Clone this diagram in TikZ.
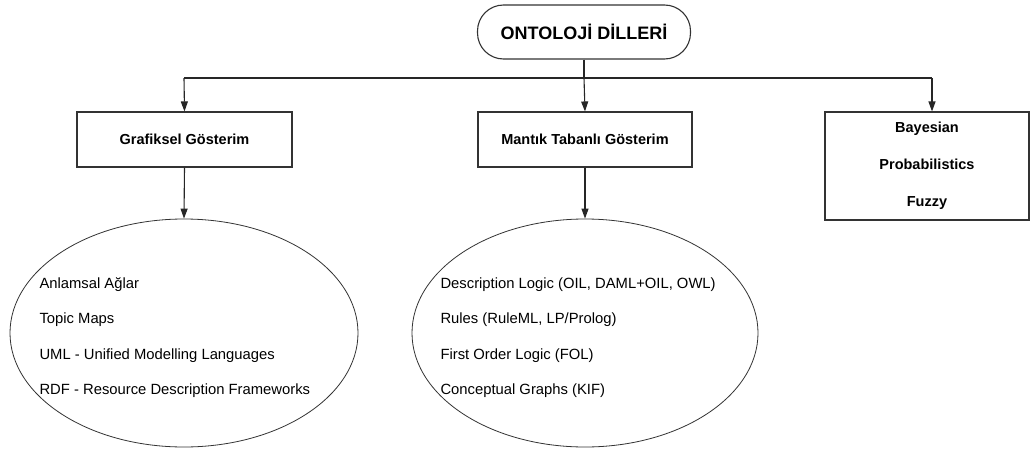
\documentclass[tikz,border=0pt]{standalone}
\usepackage{fontspec}
\setmainfont{Liberation Sans}
\usetikzlibrary{shapes.geometric,arrows.meta}
\begin{document}
\begin{tikzpicture}[x=1pt,y=-1pt,
  line/.style={draw=black!85, line width=1.1pt},
  arr/.style={line, -{Triangle[length=10pt,width=7pt]}},
  box/.style={draw=black!80, line width=1.1pt, fill=white, inner sep=0pt},
  oval/.style={ellipse, draw=black!80, line width=0.8pt, inner sep=0pt},
  hdr/.style={font=\bfseries\fontsize{14.5}{17}\selectfont},
  item/.style={font=\fontsize{14.8}{17}\selectfont, anchor=west}
]
\useasboundingbox (0,0) rectangle (1031,450);
\fill[white] (0,0) rectangle (1031,450);

% root
\node[box, rounded corners=26pt, minimum width=213pt, minimum height=54pt,
      font=\bfseries\fontsize{18}{21}\selectfont] (root) at (584,32) {ONTOLOJİ DİLLERİ};

% branch line
\coordinate (jl) at (184,78);
\coordinate (jm) at (584,78);
\coordinate (jr) at (932,78);
\draw[line] (root.south) -- (jm);
\draw[line] (jl) -- (jr);

% second level
\node[box, minimum width=215pt, minimum height=55pt, hdr] (g) at (184.5,139.5) {Grafiksel Gösterim};
\node[box, minimum width=214pt, minimum height=55pt, hdr] (m) at (585,139.5) {Mantık Tabanlı Gösterim};
\node[box, minimum width=204pt, minimum height=108pt, hdr, align=center] (b) at (927,166)
  {Bayesian\\[20pt]Probabilistics\\[20pt]Fuzzy};

\draw[arr] (jl) -- (g.north);
\draw[arr] (jm) -- (m.north);
\draw[arr] (jr) -- (jr |- b.north);

% ellipses
\node[oval, minimum width=348pt, minimum height=228pt] (e1) at (184,333) {};
\node[oval, minimum width=346pt, minimum height=228pt] (e2) at (585,333) {};

\draw[arr] (g.south) -- (e1.north);
\draw[arr] (m.south) -- (e2.north);

% ellipse contents
\node[item] (a1) at (36,284.5) {Anlamsal Ağlar};
\node[item] (a2) at (36,319.5) {Topic Maps};
\node[item] (a3) at (36,355.5) {UML - Unified Modelling Languages};
\node[item] (a4) at (36,390.5) {RDF - Resource Description Frameworks};

\node[item] (d1) at (437,284.5) {Description Logic (OIL, DAML+OIL, OWL)};
\node[item] (d2) at (437,319.5) {Rules (RuleML, LP/Prolog)};
\node[item] (d3) at (437,355.5) {First Order Logic (FOL)};
\node[item] (d4) at (437,390.5) {Conceptual Graphs (KIF)};
\end{tikzpicture}
\end{document}
